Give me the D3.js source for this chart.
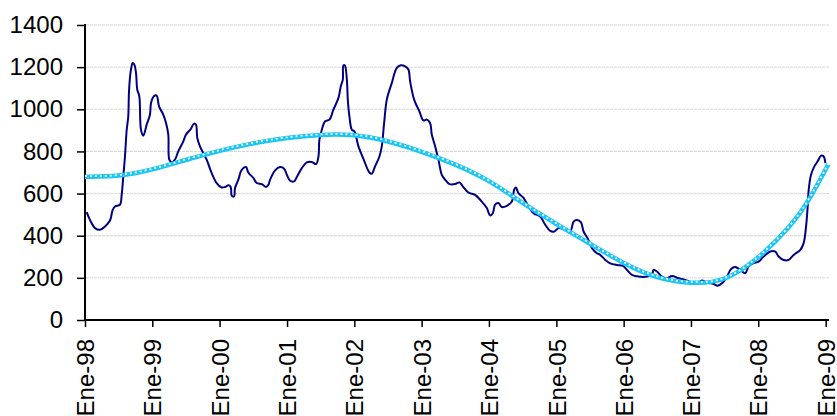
<!DOCTYPE html>
<html><head><meta charset="utf-8">
<script src="https://cdn.jsdelivr.net/npm/d3@7"></script>
<style>html,body{margin:0;padding:0;background:#fff;}svg{display:block;font-family:"Liberation Sans",Arial,sans-serif;}</style>
</head><body><svg id="c" width="837" height="416"></svg>
<script>
// Decimal years and values of the monthly series (dark line)
const seriesT = [1998.025,1998.074,1998.149,1998.223,1998.297,1998.371,1998.412,1998.446,1998.520,1998.545,1998.569,1998.594,1998.620,1998.643,1998.654,1998.679,1998.709,1998.733,1998.758,1998.777,1998.807,1998.832,1998.866,1998.917,1998.966,1998.981,
1999.025,1999.065,1999.100,1999.163,1999.204,1999.238,1999.253,1999.288,1999.337,1999.386,1999.461,1999.501,1999.571,1999.620,1999.649,1999.669,1999.709,1999.758,1999.808,1999.883,1999.957,
2000.031,2000.080,2000.129,2000.165,2000.180,2000.214,2000.229,2000.278,2000.328,2000.392,2000.426,2000.501,2000.551,2000.626,2000.689,2000.724,2000.749,2000.823,2000.897,2000.957,2000.997,
2001.046,2001.106,2001.155,2001.220,2001.294,2001.368,2001.432,2001.467,2001.481,2001.517,2001.566,2001.630,2001.689,2001.764,2001.799,2001.829,2001.838,2001.859,2001.889,2001.903,2001.927,2001.963,
2002.001,2002.061,2002.135,2002.224,2002.259,2002.308,2002.373,2002.408,2002.443,2002.483,2002.557,2002.631,2002.691,2002.755,2002.804,2002.829,2002.889,2002.967,
2003.027,2003.077,2003.126,2003.151,2003.201,2003.250,2003.300,2003.349,2003.413,2003.498,2003.562,2003.612,2003.695,2003.795,2003.894,2003.969,
2004.018,2004.058,2004.092,2004.141,2004.192,2004.266,2004.340,2004.374,2004.400,2004.438,2004.513,2004.587,2004.661,2004.761,2004.835,2004.909,2004.969,
2005.033,2005.132,2005.207,2005.256,2005.306,2005.366,2005.404,2005.464,2005.529,2005.603,2005.652,2005.727,2005.801,2005.900,2005.989,
2006.049,2006.123,2006.221,2006.346,2006.420,2006.444,2006.495,2006.569,2006.643,2006.718,2006.816,2006.915,
2007.015,2007.089,2007.163,2007.238,2007.336,2007.395,2007.461,2007.535,2007.594,2007.658,2007.733,2007.807,2007.856,2007.930,
2008.005,2008.079,2008.178,2008.253,2008.302,2008.376,2008.450,2008.525,2008.624,2008.673,2008.709,2008.733,2008.748,2008.783,2008.832,2008.881,2008.932,2008.970,2008.995];
const seriesV = [512,475,436,428,444,472,523,539,547,594,681,776,903,966,1085,1180,1220,1212,1173,1093,1062,903,875,927,975,1030,
1062,1065,1014,975,935,880,761,748,761,800,848,880,906,932,927,864,824,792,761,697,650,
629,631,639,631,590,586,626,666,713,726,700,674,650,645,631,642,666,710,726,718,689,
661,658,685,721,748,750,740,776,856,903,943,951,998,1054,1109,1141,1208,1208,1141,1046,966,903,
895,824,765,700,694,729,776,824,935,1046,1125,1197,1209,1204,1189,1133,1046,990,
947,951,935,880,824,761,689,666,645,645,653,634,605,594,562,531,
496,507,547,555,536,542,562,618,629,602,579,539,507,491,452,423,420,
436,428,420,467,475,463,420,388,341,317,309,285,269,261,257,
238,214,206,206,214,238,230,206,198,209,198,190,
177,174,187,177,171,163,174,206,241,251,238,222,253,270,
277,301,325,325,301,285,285,309,333,365,444,539,618,689,729,753,780,776,745];
// Polynomial trend line (light blue)
const trendT = [1998.0,1998.5,1999.0,1999.5,2000.0,2000.5,2001.0,2001.5,2002.0,2002.5,2003.0,2003.5,2004.0,2004.5,2005.0,2005.5,2006.0,2006.5,2007.0,2007.5,2008.0,2008.5,2008.75,2009.04];
const trendV = [680,680,712,760,804,840,866,880,882,850,800,740,665,553,455,362,267,196,172,180,290,450,565,740];
const yTicks = [0,200,400,600,800,1000,1200,1400];
const xTickYears = [1998,1999,2000,2001,2002,2003,2004,2005,2006,2007,2008,2009];
const xTickLabels = ["Ene-98","Ene-99","Ene-00","Ene-01","Ene-02","Ene-03","Ene-04","Ene-05","Ene-06","Ene-07","Ene-08","Ene-09"];

function toDate(t){
  const y = Math.floor(t);
  const a = new Date(y,0,1), b = new Date(y+1,0,1);
  return new Date(a.getTime() + (t-y)*(b-a));
}

const svg = d3.select("#c");
const x = d3.scaleTime().domain([new Date(1998,0,1), new Date(2009,0,1)]).range([85, 825.7]);
const y = d3.scaleLinear().domain([0,1400]).range([320, 25]);

// gridlines
svg.append("g").selectAll("line").data(yTicks.filter(d=>d>0)).join("line")
  .attr("x1",86).attr("x2",829).attr("y1",d=>y(d)).attr("y2",d=>y(d))
  .attr("stroke","#d4d4d4").attr("stroke-width",1).attr("stroke-dasharray","3,1");

// y axis
const ya = svg.append("g").attr("transform","translate(85,0)")
  .call(d3.axisLeft(y).tickValues(yTicks).tickSize(8).tickPadding(14).tickFormat(d3.format("d")));
ya.select(".domain").remove();
ya.selectAll(".tick line").attr("stroke","#000").attr("stroke-width",1.5);
ya.selectAll("text").attr("font-size","24px").attr("fill","#000").attr("font-family","'Liberation Sans',Arial,sans-serif");
svg.append("line").attr("x1",85).attr("x2",85).attr("y1",24).attr("y2",321).attr("stroke","#000").attr("stroke-width",2);

// x axis
const xa = svg.append("g").attr("transform","translate(0,320)")
  .call(d3.axisBottom(x).tickValues(xTickYears.map(v=>new Date(v,0,1))).tickSize(7)
    .tickFormat((d,i)=>xTickLabels[i]));
xa.select(".domain").remove();
xa.selectAll(".tick line").attr("stroke","#000").attr("stroke-width",1.5);
xa.selectAll("text").attr("font-size","24px").attr("fill","#000").attr("font-family","'Liberation Sans',Arial,sans-serif")
  .attr("text-anchor","end").attr("transform","rotate(-90)").attr("x",-19).attr("y",0).attr("dy","0.36em");
svg.append("line").attr("x1",84).attr("x2",829).attr("y1",320).attr("y2",320).attr("stroke","#000").attr("stroke-width",2);

// dark series
const line = d3.line().x(d=>x(toDate(d[0]))).y(d=>y(d[1])).curve(d3.curveCatmullRom.alpha(0.5));
svg.append("path").datum(seriesT.map((t,i)=>[t,seriesV[i]]))
  .attr("d",line).attr("fill","none").attr("stroke","#000080").attr("stroke-width",2);

// trend
const tline = d3.line().x(d=>x(toDate(d[0]))).y(d=>y(d[1])).curve(d3.curveBasis);
const tdata = trendT.map((t,i)=>[t,trendV[i]]);
svg.append("path").datum(tdata).attr("d",tline).attr("fill","none").attr("stroke","#18c6f6").attr("stroke-width",4.5);
svg.append("path").datum(tdata).attr("d",tline).attr("fill","none").attr("stroke","#ffffff").attr("stroke-width",1.8)
  .attr("stroke-dasharray","2,3").attr("transform","translate(0,-0.6)");
</script></body></html>
